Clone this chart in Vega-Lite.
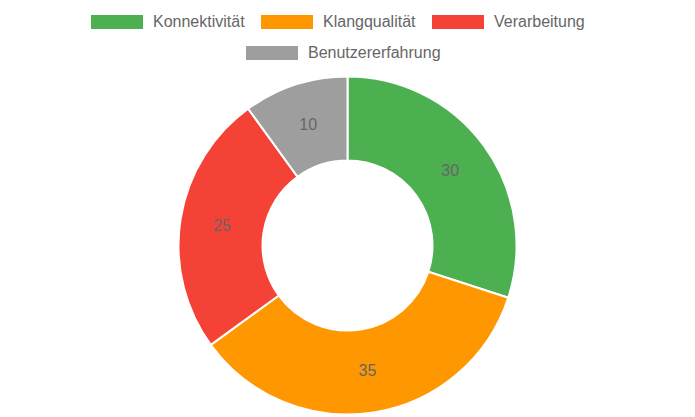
{
  "$schema": "https://vega.github.io/schema/vega-lite/v6.json",
  "width": 695,
  "height": 343,
  "autosize": "none",
  "padding": {"top": 74, "left": 0, "right": 0, "bottom": 0},
  "background": "white",
  "data": {
    "values": [
      {"kategorie": "Konnektivität", "wert": 30, "reihenfolge": 1},
      {"kategorie": "Klangqualität", "wert": 35, "reihenfolge": 2},
      {"kategorie": "Verarbeitung", "wert": 25, "reihenfolge": 3},
      {"kategorie": "Benutzererfahrung", "wert": 10, "reihenfolge": 4}
    ]
  },
  "config": {
    "view": {"stroke": null},
    "legend": {
      "title": null,
      "orient": "none",
      "direction": "horizontal",
      "labelFont": "Liberation Sans",
      "labelFontSize": 16,
      "labelColor": "#666666",
      "labelOffset": 10,
      "columnPadding": 16,
      "symbolType": "M-1,-0.27H1V0.27H-1Z",
      "symbolSize": 2704,
      "symbolStrokeWidth": 0,
      "symbolOpacity": 1
    }
  },
  "encoding": {
    "theta": {"field": "wert", "type": "quantitative", "stack": true},
    "order": {"field": "reihenfolge", "type": "quantitative"}
  },
  "layer": [
    {
      "mark": {"type": "arc", "radius": 169, "radius2": 85, "stroke": "white", "strokeWidth": 2},
      "encoding": {
        "color": {
          "field": "kategorie",
          "type": "nominal",
          "scale": {
            "domain": ["Konnektivität", "Klangqualität", "Verarbeitung", "Benutzererfahrung"],
            "range": ["#4CAF50", "#FF9800", "#F44336", "#9E9E9E"]
          },
          "legend": {
            "values": ["Konnektivität", "Klangqualität", "Verarbeitung"],
            "legendX": 91,
            "legendY": -78
          }
        }
      }
    },
    {
      "transform": [{"filter": "datum.kategorie == 'Benutzererfahrung'"}],
      "mark": {"type": "arc", "radius": 169, "radius2": 85, "opacity": 0},
      "encoding": {
        "color": {
          "field": "kategorie",
          "type": "nominal",
          "scale": {"domain": ["Benutzererfahrung"], "range": ["#9E9E9E"]},
          "legend": {"legendX": 246, "legendY": -47}
        }
      }
    },
    {
      "mark": {"type": "text", "radius": 127, "font": "Liberation Sans", "fontSize": 16, "color": "#666666"},
      "encoding": {
        "text": {"field": "wert", "type": "quantitative"}
      }
    }
  ],
  "resolve": {"scale": {"color": "independent"}, "legend": {"color": "independent"}}
}
